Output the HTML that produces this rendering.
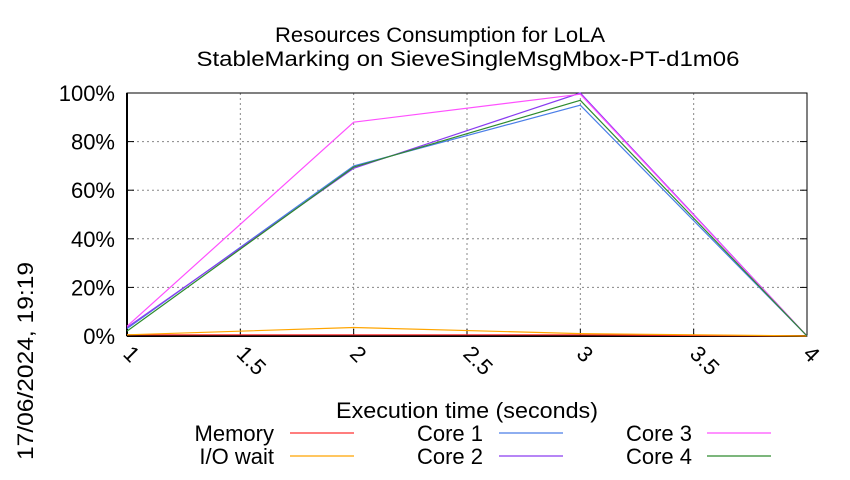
<!DOCTYPE html>
<html><head><meta charset="utf-8"><style>
body{margin:0;background:#fff;}
svg text{font-family:"Liberation Sans",sans-serif;fill:#000;}
</style></head><body>
<svg id="chart" width="850" height="475" viewBox="0 0 850 475" xmlns="http://www.w3.org/2000/svg">
<text x="440" y="42" font-size="21" text-anchor="middle" textLength="330" lengthAdjust="spacingAndGlyphs">Resources Consumption for LoLA</text>
<text x="468" y="66" font-size="21" text-anchor="middle" textLength="543" lengthAdjust="spacingAndGlyphs">StableMarking on SieveSingleMsgMbox-PT-d1m06</text>
<text transform="translate(33,460) rotate(-90)" font-size="22" textLength="198" lengthAdjust="spacingAndGlyphs">17/06/2024, 19:19</text>
<text x="467" y="418" font-size="22" text-anchor="middle" textLength="262" lengthAdjust="spacingAndGlyphs">Execution time (seconds)</text>
<g id="grid"></g>
<g id="axes"></g>
<g id="series"></g>
<g id="legend"></g>
</svg>
<script>
const xTicks = [1, 1.5, 2, 2.5, 3, 3.5, 4];
const xTickLabels = ["1", "1.5", "2", "2.5", "3", "3.5", "4"];
const yTicks = [0, 20, 40, 60, 80, 100];
const yTickLabels = ["0%", "20%", "40%", "60%", "80%", "100%"];
const times = [1, 2, 3, 4];
const memory = [0.5, 0.5, 0.5, 0];
const ioWait = [0.5, 3.5, 1, 0];
const core1 = [3, 70, 95, 0];
const core2 = [3.5, 69, 100, 0];
const core3 = [4, 88, 99.5, 0];
const core4 = [2, 69.5, 97, 0];
const seriesNames = ["Memory", "I/O wait", "Core 1", "Core 2", "Core 3", "Core 4"];

const NS = "http://www.w3.org/2000/svg";
const L = 127, R = 807, T = 93, B = 336;
function xS(v){ return L + (v - 1) / 3 * (R - L); }
function yS(v){ return B - v / 100 * (B - T); }
function mk(tag, attrs, parent){ const e = document.createElementNS(NS, tag); for (const k in attrs) e.setAttribute(k, attrs[k]); parent.appendChild(e); return e; }

const grid = document.getElementById('grid');
const axes = document.getElementById('axes');
yTicks.forEach((v, i) => {
  const y = yS(v);
  if (v > 0) {
    const g = mk('line', {x1: L, x2: R, y1: y, y2: y, stroke: '#888', 'stroke-dasharray': '2,3', 'stroke-width': 1}, grid);
    
    
  }
  const t = mk('line', {x1: L, x2: L + 7, y1: y, y2: y, stroke: '#000'}, axes);
  
  
  const t2 = mk('line', {x1: R - 7, x2: R, y1: y, y2: y, stroke: '#000'}, axes);
  
  
  const lb = mk('text', {x: L - 12, y: y + 8, 'font-size': 22, 'text-anchor': 'end'}, axes);
  lb.textContent = yTickLabels[i];
  
  
});
xTicks.forEach((v, i) => {
  const x = xS(v);
  if (v > 1 && v < 4) {
    const g = mk('line', {x1: x, x2: x, y1: T, y2: B, stroke: '#888', 'stroke-dasharray': '2,3', 'stroke-width': 1}, grid);
    
    
  }
  const t = mk('line', {x1: x, x2: x, y1: B, y2: B - 7, stroke: '#000'}, axes);
  
  
  const lb = mk('text', {transform: `translate(${x - 5},${B + 19}) rotate(45)`, 'font-size': 22}, axes);
  lb.textContent = xTickLabels[i];
  
  
});
const frame = mk('rect', {x: L, y: T, width: R - L, height: B - T, fill: 'none', stroke: '#000', 'stroke-width': 1}, axes);


const lb = mk('line', {x1: L, x2: L, y1: T, y2: B, stroke: '#000', 'stroke-width': 2}, axes);


const bb = mk('line', {x1: L, x2: R, y1: B, y2: B, stroke: '#000', 'stroke-width': 2}, axes);



const datasets = [memory, ioWait, core1, core2, core3, core4];
const colors = ['#ff3030', '#ffa500', '#4a7ee8', '#8a3cf0', '#ff50ff', '#2e8b2e'];
const sg = document.getElementById('series');
datasets.forEach((d, k) => {
  const pts = d.map((v, i) => xS(times[i]).toFixed(1) + ',' + yS(v).toFixed(1)).join(' ');
  const p = mk('polyline', {points: pts, fill: 'none', stroke: colors[k], 'stroke-width': 1.2}, sg);
  
  
});

const lg = document.getElementById('legend');
const cols = [[274, 290], [483, 499], [692, 707]];
const rows = [433, 456];
seriesNames.forEach((n, k) => {
  const c = cols[Math.floor(k / 2)], y = rows[k % 2];
  const t = mk('text', {x: c[0], y: y + 8, 'font-size': 22, 'text-anchor': 'end'}, lg);
  t.textContent = n;
  
  
  const l = mk('line', {x1: c[1], x2: c[1] + 64, y1: y, y2: y, stroke: colors[k], 'stroke-width': 1.2}, lg);
  
  
});
</script>
</body></html>
